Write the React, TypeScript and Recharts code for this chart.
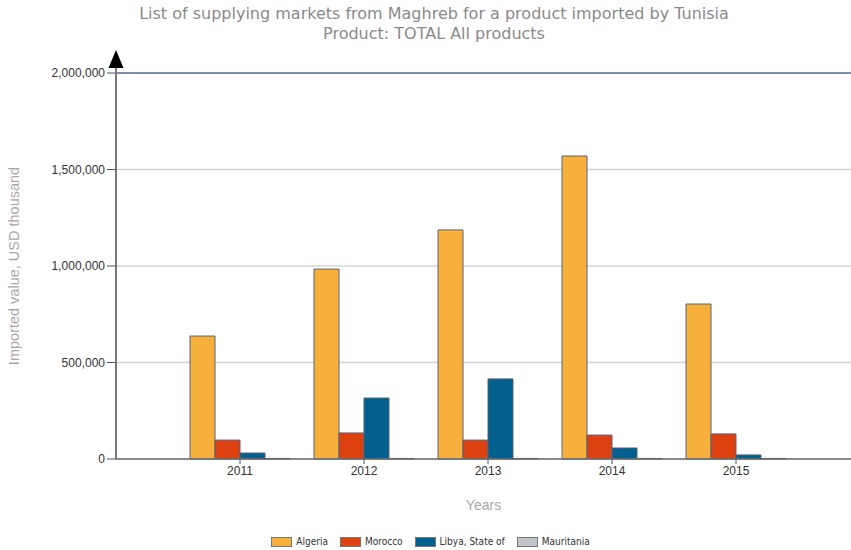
import React from 'react';
import { BarChart, Bar, XAxis, YAxis, CartesianGrid, ReferenceLine } from 'recharts';

const years = ['2011', '2012', '2013', '2014', '2015'];
const algeria = [637000, 984000, 1187000, 1570000, 803000];
const morocco = [98000, 135000, 98000, 124000, 130000];
const libya = [31000, 316000, 415000, 57000, 21000];
const mauritania = [3000, 3000, 3000, 3000, 3000];
const yTicks = [0, 500000, 1000000, 1500000, 2000000];

const series = [
  { key: 'algeria', name: 'Algeria', color: '#F8B03C' },
  { key: 'morocco', name: 'Morocco', color: '#DE4110' },
  { key: 'libya', name: 'Libya, State of', color: '#035F8E' },
  { key: 'mauritania', name: 'Mauritania', color: '#C3C3CC' },
];

const chartData = years.map((year, i) => ({
  year,
  algeria: algeria[i],
  morocco: morocco[i],
  libya: libya[i],
  mauritania: mauritania[i],
}));

const fmt = (v: number) => v.toLocaleString('en-US');

const App: React.FC = () => {
  return (
    <div style={{ position: 'absolute', left: 0, top: 0, width: 851, height: 550, background: '#fff', fontFamily: 'Liberation Sans, Arial, sans-serif' }}>
      <div
        style={{
          position: 'absolute',
          left: 0,
          top: 4,
          width: 868,
          textAlign: 'center',
          color: '#8a8a8a',
          fontSize: 16,
          lineHeight: '20px',
          fontFamily: 'DejaVu Sans, sans-serif',
        }}
      >
        List of supplying markets from Maghreb for a product imported by Tunisia
        <br />
        Product: TOTAL All products
      </div>
      <BarChart
        width={851}
        height={550}
        data={chartData}
        margin={{ top: 73, right: 0, left: 0, bottom: 61 }}
        barGap={0}
        barSize={25}
      >
        <CartesianGrid vertical={false} stroke="#d4d4d4" strokeWidth={1.5} />
        <ReferenceLine y={2000000} stroke="#7d8db5" strokeWidth={2} />
        <XAxis
          dataKey="year"
          height={30}
          padding={{ left: 62, right: 53 }}
          axisLine={{ stroke: '#6e6e6e', strokeWidth: 1.5 }}
          tickLine={{ stroke: '#555' }}
          tickSize={5}
          tick={{ fill: '#333', fontSize: 12 }}
          label={{ value: 'Years', position: 'insideBottom', offset: -21, fill: '#a8a8a8', fontSize: 14 }}
        />
        <YAxis
          width={116}
          domain={[0, 2000000]}
          ticks={yTicks}
          tickFormatter={fmt}
          axisLine={{ stroke: '#777', strokeWidth: 2 }}
          tickLine={{ stroke: '#555' }}
          tickSize={9}
          tick={{ fill: '#333', fontSize: 12 }}
          label={{ value: 'Imported value, USD thousand', angle: -90, position: 'insideLeft', offset: 14, fill: '#a8a8a8', fontSize: 14.5, style: { textAnchor: 'middle' } }}
        />
        {series.map(s => (
          <Bar
            key={s.key}
            dataKey={s.key}
            name={s.name}
            fill={s.color}
            stroke="#58627a"
            strokeWidth={1}
            isAnimationActive={false}
          />
        ))}
      </BarChart>
      <svg style={{ position: 'absolute', left: 0, top: 0 }} width={851} height={80}>
        <line x1={116} y1={66} x2={116} y2={74} stroke="#777" strokeWidth={2} />
        <polygon points="108.5,68 123.5,68 116,50" fill="#000" />
      </svg>
      <div
        style={{
          position: 'absolute',
          left: 0,
          top: 536,
          width: 873,
          display: 'flex',
          justifyContent: 'center',
          fontSize: 10,
          color: '#333',
          fontFamily: 'DejaVu Sans Condensed, sans-serif',
        }}
      >
        {series.map(s => (
          <div key={s.key} style={{ display: 'flex', alignItems: 'center', marginRight: 12 }}>
            <span style={{ display: 'inline-block', width: 19, height: 8, background: s.color, border: '1px solid #777', marginRight: 4 }} />
            <span>{s.name}</span>
          </div>
        ))}
      </div>
    </div>
  );
};

export default App;
